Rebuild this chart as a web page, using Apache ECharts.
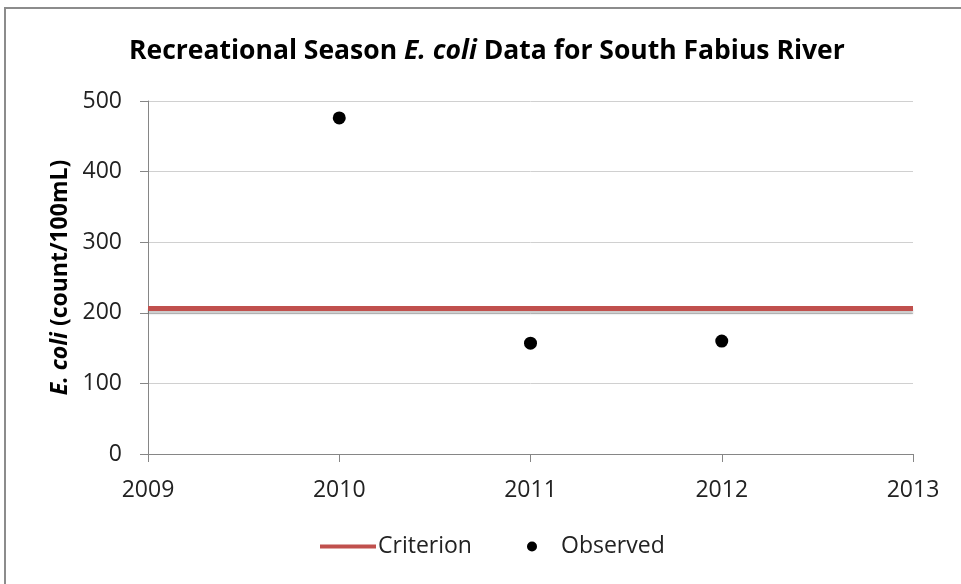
<!DOCTYPE html>
<html>
<head>
<meta charset="utf-8">
<script src="https://cdn.jsdelivr.net/npm/echarts@6/dist/echarts.min.js"></script>
<style>
  html, body { margin: 0; padding: 0; background: #fff; }
  #chart { width: 961px; height: 584px; }
  .frame { position: absolute; left: 4px; top: 7px; width: 980px; height: 600px; border: 2px solid #8c8c8c; box-sizing: border-box; pointer-events: none; }
</style>
</head>
<body>
<div id="chart"></div>
<div class="frame"></div>
<script>
// 数据
const years = [2010, 2011, 2012];
const observed = [476, 157, 160];
const criterionValue = 206;
const xRange = [2009, 2013];
const yTicks = [0, 100, 200, 300, 400, 500];

const fontName = 'Open Sans';
const chart = echarts.init(document.getElementById('chart'));

const option = {
  animation: false,
  textStyle: { fontFamily: fontName },
  title: {
    text: 'Recreational Season {i|E. coli} Data for South Fabius River',
    left: 129,
    top: 38,
    padding: 0,
    textStyle: {
      fontFamily: fontName,
      fontSize: 26.5,
      fontWeight: 'bold',
      color: '#000',
      rich: {
        i: { fontFamily: fontName, fontSize: 26.5, fontWeight: 'bold', fontStyle: 'italic', color: '#000' }
      }
    }
  },
  grid: { left: 148, right: 48, top: 101, bottom: 130 },
  legend: [
    {
      data: [{ name: 'Criterion', icon: 'rect' }],
      left: 320, top: 535, padding: 0,
      itemWidth: 56, itemHeight: 4, itemGap: 0,
      textStyle: { fontSize: 23, color: '#222', padding: [0, 0, 0, -3] }
    },
    {
      data: [{ name: 'Observed', icon: 'circle' }],
      left: 527, top: 535, padding: 0,
      itemWidth: 10, itemHeight: 10,
      textStyle: { fontSize: 23, color: '#222', padding: [0, 0, 0, 19] }
    }
  ],
  xAxis: {
    type: 'value',
    min: xRange[0], max: xRange[1], interval: 1,
    axisLine: { show: true, lineStyle: { color: '#868686', width: 1 } },
    axisTick: { show: true, inside: false, length: 8, lineStyle: { color: '#868686' } },
    axisLabel: { fontSize: 23, color: '#222', margin: 25, formatter: v => String(v) },
    splitLine: { show: false }
  },
  yAxis: {
    type: 'value',
    min: yTicks[0], max: yTicks[yTicks.length - 1], interval: 100,
    name: '{i|E. coli} (count/100mL)',
    nameLocation: 'middle',
    nameGap: 74,
    nameTextStyle: {
      fontFamily: fontName, fontSize: 23, fontWeight: 'bold', color: '#000',
      rich: { i: { fontFamily: fontName, fontSize: 23, fontWeight: 'bold', fontStyle: 'italic', color: '#000' } }
    },
    axisLine: { show: true, lineStyle: { color: '#868686', width: 1 } },
    axisTick: { show: true, length: 8, lineStyle: { color: '#868686' } },
    axisLabel: { fontSize: 23, color: '#222', margin: 26 },
    splitLine: { show: true, lineStyle: { color: '#d0d0d0', width: 1 } }
  },
  series: [
    {
      name: 'Criterion',
      type: 'line',
      data: xRange.map(x => [x, criterionValue]),
      symbol: 'none',
      color: '#c0504d',
      lineStyle: { width: 5, color: '#c0504d', shadowColor: 'rgba(0,0,0,0.2)', shadowOffsetY: 3, shadowBlur: 2 },
      z: 3
    },
    {
      name: 'Observed',
      type: 'scatter',
      data: years.map((y, i) => [y, observed[i]]),
      symbol: 'circle',
      symbolSize: 13,
      color: '#000',
      itemStyle: { color: '#000', opacity: 1 },
      z: 4
    }
  ]
};
chart.setOption(option);
</script>
</body>
</html>
